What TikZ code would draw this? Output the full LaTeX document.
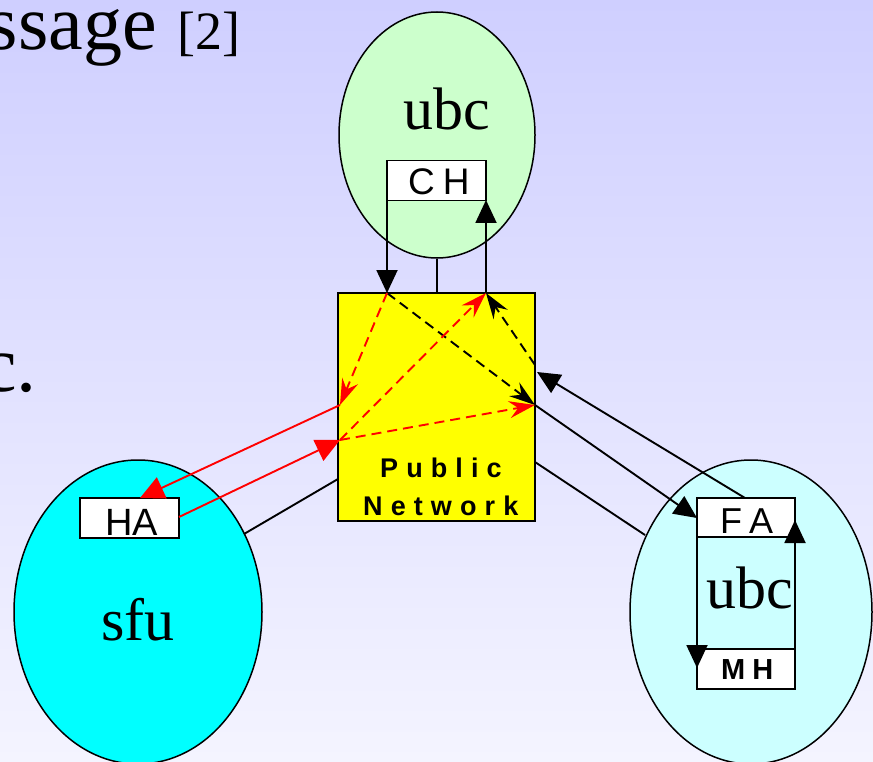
\documentclass[tikz,border=0pt]{standalone}
\usepackage{fontspec}
\setmainfont{Liberation Serif}
\newfontfamily\lblfont{Liberation Sans}
\newfontfamily\lblbfont{Liberation Sans Bold}
\newfontfamily\pubfont[LetterSpace=30]{Liberation Sans Bold}
\usetikzlibrary{arrows.meta,shapes.geometric}
\definecolor{bgtop}{RGB}{207,207,255}
\definecolor{bgbot}{RGB}{244,244,255}
\definecolor{lgreen}{RGB}{204,255,204}
\definecolor{lcyan}{RGB}{204,255,255}
\definecolor{fcyan}{RGB}{0,255,255}
\definecolor{pubyellow}{RGB}{255,255,0}
\tikzset{
  blob/.style={ellipse,draw=black,line width=1.5pt,inner sep=0pt},
  tag/.style={rectangle,draw=black,fill=white,line width=1.5pt,inner sep=0pt},
  tagtxt/.style={anchor=base west,inner sep=0pt},
  bigtxt/.style={font=\fontsize{60}{60}\selectfont,inner sep=0pt},
  blk/.style={draw=black,line width=1.9pt},
  blkarr/.style={blk,-{Triangle[length=23pt,width=21pt]}},
  blkdash/.style={blk,dash pattern=on 10pt off 6pt,-{Stealth[length=26pt,width=17pt,inset=9pt]}},
  reddash/.style={draw=red,line width=1.9pt,dash pattern=on 10pt off 6pt,-{Stealth[length=26pt,width=17pt,inset=9pt]}},
  redarr/.style={draw=red,line width=1.9pt,-{Triangle[length=24pt,width=23pt]}},
}
\begin{document}
\begin{tikzpicture}[x=1pt,y=-1pt]
\useasboundingbox (0,0) rectangle (873,762);
\shade[top color=bgtop,bottom color=bgbot] (0,0) rectangle (873,762);

% heading fragments
\node[anchor=base east,inner sep=0pt,font=\fontsize{78}{78}\selectfont] (hd) at (157,50) {ssage};
\node[anchor=base west,inner sep=0pt,font=\fontsize{54}{54}\selectfont] (hdn) at (177,50) {[2]};
\node[anchor=base east,inner sep=0pt,font=\fontsize{80}{80}\selectfont] (etc) at (37,391) {c.};

% ellipses
\node[blob,fill=lgreen,minimum width=196pt,minimum height=246pt] (ubcT) at (437,135) {};
\node[blob,fill=fcyan,minimum width=248pt,minimum height=304pt] (sfuE) at (138,612) {};
\node[blob,fill=lcyan,minimum width=242pt,minimum height=304pt] (ubcR) at (751,612) {};

% public network
\node[rectangle,draw=black,line width=1.5pt,fill=pubyellow,minimum width=197pt,minimum height=228pt] (pub) at (436.5,407) {};
\node[anchor=base west,inner sep=0pt,font=\pubfont\fontsize{27}{27}\selectfont] (pubA) at (380,477) {Public};
\node[anchor=base west,inner sep=0pt,font=\pubfont\fontsize{27}{27}\selectfont] (pubB) at (363,515) {Network};

% labels
\node[bigtxt,anchor=base] (ubcTl) at (447,130) {ubc};
\node[bigtxt,anchor=base] (sfuL) at (138,640) {sfu};
\node[bigtxt,anchor=base] (ubcRl) at (750,608) {ubc};

% tags
\node[tag,minimum width=99pt,minimum height=40pt] (CH) at (436.5,180.5) {};
\node[tagtxt,font=\lblfont\fontsize{37}{37}\selectfont] (CHt) at (408,195) {C\hspace{8pt}H};
\node[tag,minimum width=99pt,minimum height=40pt] (HA) at (129.5,518) {};
\node[tagtxt,font=\lblfont\fontsize{38}{38}\selectfont] (HAt) at (105,535) {H\hspace{0pt}A};
\node[tag,minimum width=98pt,minimum height=39pt] (FA) at (746,517.5) {};
\node[tagtxt,font=\lblfont\fontsize{36}{36}\selectfont] (FAt) at (720,533) {F\hspace{7pt}A};
\node[tag,minimum width=98pt,minimum height=40pt] (MH) at (746,669) {};
\node[tagtxt,font=\lblbfont\fontsize{29}{29}\selectfont] (MHt) at (721,679) {M\hspace{7pt}H};

% coordinates
\coordinate (pTL) at (387,293);
\coordinate (pTR) at (486,293);
\coordinate (pTM) at (437,293);
\coordinate (chL) at (387,200);
\coordinate (chR) at (486,200);
\coordinate (pR1) at (535,365);
\coordinate (pR2) at (537,372);
\coordinate (pR3) at (535,405);
\coordinate (pR4) at (535,462);
\coordinate (pL1) at (340,405);
\coordinate (pL2) at (340,440);
\coordinate (pL3) at (338,479);
\coordinate (haT) at (140,498);
\coordinate (haR) at (179,517);
\coordinate (sfuP) at (244,534);
\coordinate (ubcP) at (645,535);
\coordinate (faL) at (697,518);
\coordinate (faT) at (745,498);
\coordinate (faBL) at (697,537);
\coordinate (mhL) at (697,668);
\coordinate (mhR) at (795,668);
\coordinate (faR) at (795,520);

% connectors
\draw[blkarr] (chL) -- (pTL);
\draw[blkarr] (pTR) -- (chR);
\draw[blk] (ubcT.south) -- (pTM);
\draw[blk] (sfuP) -- (pL3);
\draw[blk] (pR4) -- (ubcP);
\draw[blkarr] (pR3) -- (faL);
\draw[blkarr] (faT) -- (pR2);
\draw[blkarr] (faBL) -- (mhL);
\draw[blkarr] (mhR) -- (faR);

\draw[blkdash] (pTL) -- (pR3);
\draw[blkdash] (pR1) -- (pTR);
\draw[reddash] (pTL) -- (pL1);
\draw[reddash] (pL2) -- (pTR);
\draw[reddash] (pL2) -- (pR3);
\draw[redarr] (pL1) -- (haT);
\draw[redarr] (haR) -- (pL2);
\end{tikzpicture}
\end{document}
